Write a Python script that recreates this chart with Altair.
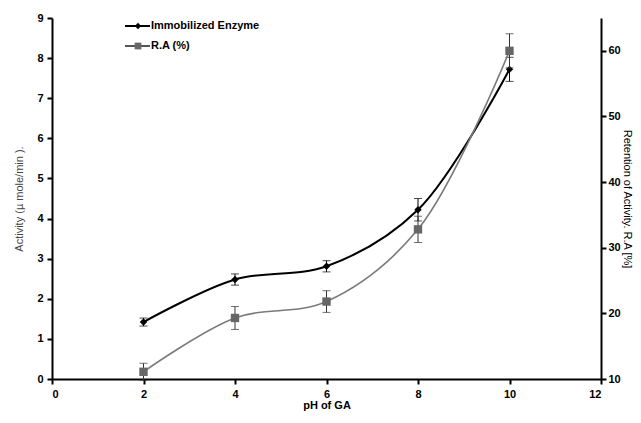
import altair as alt
import pandas as pd

ph = [2, 4, 6, 8, 10]
enzyme = [1.42, 2.48, 2.81, 4.22, 7.72]
enzyme_err = [0.10, 0.14, 0.14, 0.28, 0.30]
ra = [11.1, 19.3, 21.8, 32.8, 60.0]
ra_err = [1.3, 1.75, 1.65, 2.0, 2.6]
legend_labels = ["Immobilized Enzyme", "R.A (%)"]

df_e = pd.DataFrame({"ph": ph, "v": enzyme, "err": enzyme_err})
df_r = pd.DataFrame({"ph": ph, "v": ra, "err": ra_err})

FONT = "Liberation Sans"
x_enc = alt.X("ph:Q", scale=alt.Scale(domain=[0, 12], nice=False),
              axis=alt.Axis(values=[0, 2, 4, 6, 8, 10, 12], title="pH of GA",
                            titleFontWeight="bold", titlePadding=0))

ys_left = alt.Scale(domain=[0, 9], nice=False, zero=False)
ys_right = alt.Scale(domain=[10, 65], nice=False, zero=False)

left_axis = alt.Axis(values=list(range(0, 10)), title="Activity (µ mole/min ).",
                     titleFontWeight="normal", titleColor="#444", titlePadding=12)
right_axis = alt.Axis(orient="right", values=[10, 20, 30, 40, 50, 60],
                      title="Retention of  Activity.  R.A [%]", titleFontWeight="normal",
                      titlePadding=1, labelPadding=2)

base_e = alt.Chart(df_e).transform_calculate(lo="datum.v - datum.err", hi="datum.v + datum.err")
e_line = base_e.mark_line(color="black", strokeWidth=2, interpolate="catmull-rom").encode(
    x=x_enc, y=alt.Y("v:Q", scale=ys_left, axis=left_axis))
e_rule = base_e.mark_rule(color="black", strokeWidth=1).encode(
    x="ph:Q", y=alt.Y("lo:Q", scale=ys_left), y2="hi:Q")
e_cap_lo = base_e.mark_tick(color="black", thickness=1, size=8, orient="horizontal").encode(
    x="ph:Q", y=alt.Y("lo:Q", scale=ys_left))
e_cap_hi = base_e.mark_tick(color="black", thickness=1, size=8, orient="horizontal").encode(
    x="ph:Q", y=alt.Y("hi:Q", scale=ys_left))
e_pts = base_e.mark_point(shape="diamond", filled=True, color="black", size=55, opacity=1).encode(
    x="ph:Q", y=alt.Y("v:Q", scale=ys_left))
layer_e = alt.layer(e_line, e_rule, e_cap_lo, e_cap_hi, e_pts)

base_r = alt.Chart(df_r).transform_calculate(lo="datum.v - datum.err", hi="datum.v + datum.err")
r_line = base_r.mark_line(color="#7a7a7a", strokeWidth=1.6, interpolate="catmull-rom").encode(
    x=x_enc, y=alt.Y("v:Q", scale=ys_right, axis=right_axis))
r_rule = base_r.mark_rule(color="#333", strokeWidth=1).encode(
    x="ph:Q", y=alt.Y("lo:Q", scale=ys_right), y2="hi:Q")
r_cap_lo = base_r.mark_tick(color="#333", thickness=1, size=8, orient="horizontal").encode(
    x="ph:Q", y=alt.Y("lo:Q", scale=ys_right))
r_cap_hi = base_r.mark_tick(color="#333", thickness=1, size=8, orient="horizontal").encode(
    x="ph:Q", y=alt.Y("hi:Q", scale=ys_right))
r_pts = base_r.mark_point(shape="square", filled=True, color="#666", size=70, opacity=1).encode(
    x="ph:Q", y=alt.Y("v:Q", scale=ys_right))
layer_r = alt.layer(r_line, r_rule, r_cap_lo, r_cap_hi, r_pts)

# manual legend
leg_df = pd.DataFrame({"label": legend_labels})
def leg_entry(i, color, shape, size):
    d = leg_df.iloc[[i]]
    yy = 8 + 20 * i
    rl = alt.Chart(d).mark_rule(color="black" if i == 0 else "#555", strokeWidth=2).encode(
        x=alt.value(73), x2=alt.value(98), y=alt.value(yy))
    pt = alt.Chart(d).mark_point(shape=shape, filled=True, color=color, size=size, opacity=1).encode(
        x=alt.value(86), y=alt.value(yy))
    tx = alt.Chart(d).mark_text(align="left", baseline="middle", font=FONT, fontWeight="bold",
                                fontSize=11, color="black").encode(
        x=alt.value(99), y=alt.value(yy), text="label:N")
    return alt.layer(rl, pt, tx)

legend_layer = alt.layer(leg_entry(0, "black", "diamond", 40), leg_entry(1, "#666", "square", 45))

chart = alt.layer(layer_e, layer_r, legend_layer).resolve_scale(y="independent").properties(
    width=549, height=361,
    autosize=alt.AutoSizeParams(type="none"),
    padding={"left": 44, "top": 10, "right": 32, "bottom": 36},
).configure_view(stroke=None).configure_axis(
    grid=False, domainColor="black", domainWidth=2, tickColor="black", tickWidth=2, tickSize=5,
    labelFont=FONT, labelFontWeight="bold", labelFontSize=11, labelColor="black",
    titleFont=FONT, titleFontSize=11, titleColor="black", labelPadding=4,
)

chart.save("out.html", embed_options={"renderer": "svg", "actions": False})
